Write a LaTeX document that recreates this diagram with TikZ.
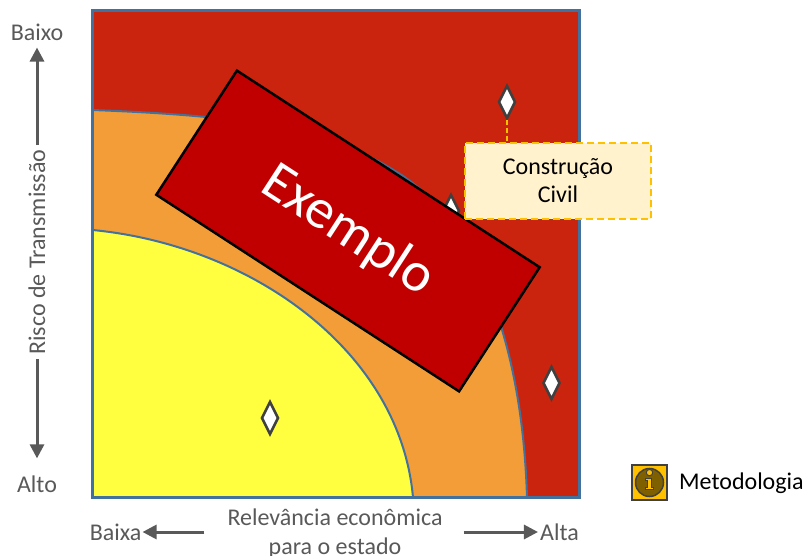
\documentclass[tikz,border=0pt]{standalone}
\usepackage{fontspec}
\setmainfont{Carlito}
\usetikzlibrary{arrows.meta,shapes.geometric}
\definecolor{redbg}{RGB}{202,36,14}
\definecolor{orangebg}{RGB}{242,157,56}
\definecolor{yellowbg}{RGB}{255,255,64}
\definecolor{edgeblue}{RGB}{65,113,156}
\definecolor{exred}{RGB}{192,0,0}
\definecolor{axgray}{RGB}{89,89,89}
\definecolor{dkgray}{RGB}{64,64,64}
\definecolor{gold}{RGB}{255,192,0}
\definecolor{calloutfill}{RGB}{255,242,204}
\definecolor{iconolive}{RGB}{127,96,0}
\begin{document}
\begin{tikzpicture}[x=1pt,y=-1pt,
 lbl/.style={inner sep=0pt, text=axgray, font=\fontsize{24}{29}\selectfont},
 axarrow/.style={draw=axgray, line width=3pt, -{Triangle[length=14pt,width=14pt]}},
 zone/.style={draw=edgeblue, line width=2pt},
 marker/.style={diamond, draw=dkgray, fill=white, line width=2.5pt, inner sep=0pt, minimum width=17pt, minimum height=33pt},
 example/.style={rectangle, draw=black, line width=2.5pt, fill=exred, text=white, minimum width=361pt, minimum height=148pt, font=\fontsize{56}{60}\selectfont, rotate=-33},
 callout/.style={rectangle, draw=gold, fill=calloutfill, dash pattern=on 7pt off 4pt, line width=2pt, minimum width=186pt, minimum height=76pt, align=center, font=\fontsize{24}{28}\selectfont, text=black},
 link/.style={draw=gold, line width=2pt, dash pattern=on 5pt off 3pt},
 iconpart/.style={fill=gold, draw=dkgray, line width=1pt}]
\useasboundingbox (0,0) rectangle (804,556);

% zones
\fill[redbg] (92.5,10.5) rectangle (579,497.5);
\path[zone, fill=orangebg] (92.5,110) .. controls (250,116) and (330,129) .. (400,174)
  .. controls (470,219) and (522,330) .. (527,497.5) -- (92.5,497.5) -- cycle;
\path[zone, fill=yellowbg] (92.5,230) .. controls (250,245) and (400,350) .. (413,497.5)
  -- (92.5,497.5) -- cycle;
\draw[edgeblue, line width=3pt] (92.5,10.5) rectangle (579,497.5);

% markers
\node[marker] (d1) at (507,102) {};
\node[marker] (d2) at (451,211) {};
\node[marker] (d3) at (551.5,383) {};
\node[marker] (d4) at (270,418) {};

% example box
\node[example] (ex) at (348,231) {Exemplo};

% callout
\node[callout] (callout) at (558,181) {Construção\\Civil};
\draw[link] (d1.south) -- (d1.south |- callout.north);

% vertical axis
\node[lbl] (ybaixo) at (37,32) {Baixo};
\node[lbl] (yalto) at (37,484) {Alto};
\node[lbl, rotate=90] (ylab) at (37,252) {Risco de Transmissão};
\draw[axarrow, shorten <=4pt, shorten >=7pt] (ylab.east) -- (ybaixo.south);
\draw[axarrow, shorten <=4pt, shorten >=17pt] (ylab.west) -- (yalto.north);

% horizontal axis
\node[lbl, align=center] (xlab) at (335,534) {Relevância econômica\\para o estado};
\node[lbl] (xbaixa) at (115.6,532) {Baixa};
\node[lbl] (xalta) at (559.5,532) {Alta};
\draw[axarrow, shorten <=23pt, shorten >=1pt] (xbaixa.east -| xlab.west) -- (xbaixa.east);
\draw[axarrow, shorten <=21pt, shorten >=2pt] (xalta.west -| xlab.east) -- (xalta.west);

% legend
\node[draw=dkgray, fill=gold, line width=2pt, minimum size=35pt, inner sep=0pt] (icon) at (649.5,482) {};
\draw[fill=iconolive, draw=dkgray, line width=1.5pt] (649.5,482.5) circle (14pt);
\draw[iconpart] (649.5,472.6) circle (3.2pt);
\draw[iconpart] (645.5,478) -- (651.2,478) -- (651.2,487.2) -- (653.8,487.2) -- (653.8,489.4)
  -- (645.2,489.4) -- (645.2,487.2) -- (647.8,487.2) -- (647.8,480.1) -- (645.5,480.1) -- cycle;
\node[lbl, text=black, anchor=west] (meth) at (679,483) {Metodologia};
\end{tikzpicture}
\end{document}
